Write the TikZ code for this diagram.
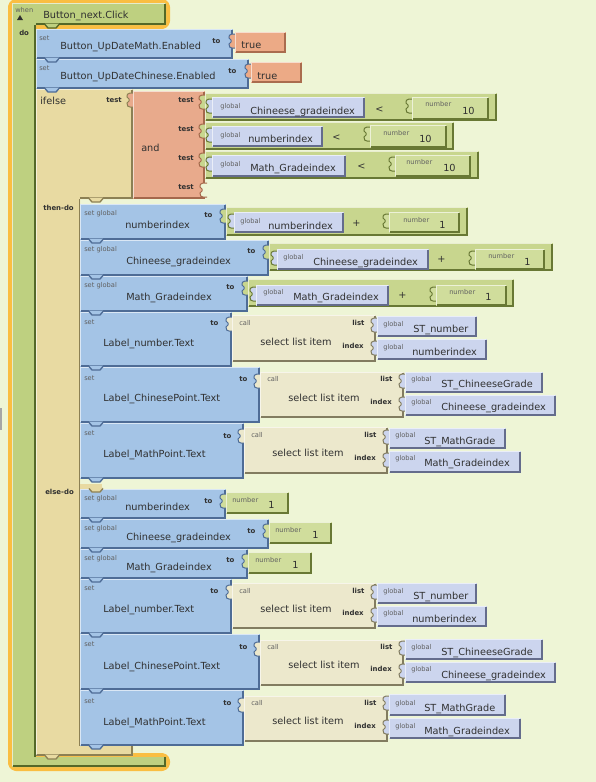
\documentclass[tikz,border=0pt]{standalone}
\usepackage{fontspec}
\setmainfont{DejaVu Sans}
\definecolor{bgc}{RGB}{238,245,214}
\definecolor{hilite}{RGB}{250,190,66}
\definecolor{evg}{RGB}{190,208,128}
\definecolor{evd}{RGB}{84,104,40}
\definecolor{bluec}{RGB}{164,196,230}
\definecolor{blued}{RGB}{78,108,150}
\definecolor{lavc}{RGB}{204,213,238}
\definecolor{lavd}{RGB}{100,108,140}
\definecolor{grc}{RGB}{200,214,142}
\definecolor{grd}{RGB}{104,120,52}
\definecolor{numc}{RGB}{208,221,156}
\definecolor{truec}{RGB}{236,170,134}
\definecolor{trued}{RGB}{170,108,78}
\definecolor{andc}{RGB}{232,170,140}
\definecolor{andd}{RGB}{165,104,76}
\definecolor{ifc}{RGB}{232,218,162}
\definecolor{ifd}{RGB}{140,128,84}
\definecolor{callc}{RGB}{236,232,204}
\definecolor{calld}{RGB}{130,124,96}
\definecolor{txt}{RGB}{48,48,48}
\definecolor{smg}{RGB}{96,96,96}
\newcommand{\Blk}[6]{%
 \fill[#5] (#1,#2) rectangle (#3,#4);
 \draw[#6,line width=1.5pt] (#1+1,#4-1) -- (#3-1,#4-1) -- (#3-1,#2+1);
 \draw[white,opacity=0.6,line width=0.75pt] (#1+0.5,#4-1.5) -- (#1+0.5,#2+0.5) -- (#3-1.5,#2+0.5);
}
\newcommand{\PzTab}[4]{%
 \filldraw[fill=#3,draw=#4,line width=0.75pt] (#1+1,#2+2) -- (#1-3,#2+2) .. controls (#1-6,#2+2) and (#1-6,#2+4) .. (#1-6,#2+6) -- (#1-4,#2+8) -- (#1-4,#2+10) -- (#1-6,#2+12) .. controls (#1-6,#2+15) and (#1-5,#2+16) .. (#1-3,#2+16) -- (#1+1,#2+16);
}
\newcommand{\StNotch}[4]{%
 \fill[#3] (#1+9,#2-1.5) -- (#1+12,#2+3) -- (#1+20,#2+3) -- (#1+23,#2-1.5) -- cycle;
 \draw[#4,line width=1pt] (#1+9,#2-0.5) -- (#1+12,#2+3) -- (#1+20,#2+3) -- (#1+23,#2-0.5);
}
\newcommand{\Tx}[5]{\node[#2] (#1) at (#3,#4) {#5};}
\begin{document}
\begin{tikzpicture}[x=0.75pt,y=-0.75pt,
 lbl/.style={font=\fontsize{7.3}{9}\selectfont,text=txt,inner sep=0pt,anchor=west,text height=5.3pt,text depth=0pt},
 sml/.style={font=\fontsize{5}{6}\selectfont,text=smg,inner sep=0pt,anchor=west,text height=3.6pt,text depth=0pt},
 bld/.style={font=\bfseries\fontsize{5.2}{6}\selectfont,text=txt,inner sep=0pt,anchor=west,text height=3.8pt,text depth=0pt}]
\useasboundingbox (0,0) rectangle (596,782);
\fill[bgc] (0,0) rectangle (596,782);
\fill[black!35] (0,408) rectangle (1.5,430);
% event block
\draw[hilite,line width=6pt,line join=round,rounded corners=3pt] (12,3) -- (166,3) -- (166,25) -- (36,25) -- (36,757) -- (166,757) -- (166,767) -- (12,767) -- cycle;
\fill[evg] (12,3) -- (166,3) -- (166,25) -- (36,25) -- (36,757) -- (166,757) -- (166,767) -- (12,767) -- cycle;
\draw[evd,line width=1.5pt] (36,24) -- (165,24) -- (165,3.5);
\draw[evd,line width=1.5pt] (35,25) -- (35,757);
\draw[evd,line width=1.5pt] (12.5,766) -- (165,766) -- (165,757);
\draw[white,opacity=0.6,line width=0.75pt] (12.5,766) -- (12.5,3.5) -- (165,3.5);
% ifelse block
\fill[ifc] (36,89) -- (133,89) -- (133,199) -- (80,199) -- (80,746) -- (133,746) -- (133,756) -- (36,756) -- cycle;
\draw[ifd,line width=1.5pt] (80,198) -- (132,198) -- (132,90);
\draw[ifd,line width=1pt] (79.5,199) -- (79.5,746);
\draw[ifd,line width=1.5pt] (36,755) -- (132,755) -- (132,746);
\draw[white,opacity=0.6,line width=0.75pt] (36.5,755) -- (36.5,89.5) -- (132,89.5);
\fill[ifc] (80,484) rectangle (102,489);
% top set blocks
\Blk{36}{29}{233}{59}{bluec}{blued}
\PzTab{235}{32}{truec}{blued}
\Blk{235}{32}{286}{53}{truec}{trued}
\Blk{36}{59}{249}{89}{bluec}{blued}
\PzTab{251}{62}{truec}{blued}
\Blk{251}{62}{302}{83}{truec}{trued}
% and block
\PzTab{133}{91}{andc}{ifd}
\Blk{133}{91}{205}{199}{andc}{andd}
\PzTab{206}{181}{bgc}{andd}
% comparisons
\PzTab{205}{93}{grc}{andd}
\Blk{205}{93}{497}{121}{grc}{grd}
\PzTab{212}{97}{lavc}{grd}
\Blk{212}{97}{365}{118}{lavc}{lavd}
\PzTab{412}{97}{numc}{grd}
\Blk{412}{97}{489}{120}{numc}{grd}
\PzTab{205}{122}{grc}{andd}
\Blk{205}{122}{454}{150}{grc}{grd}
\PzTab{212}{126}{lavc}{grd}
\Blk{212}{126}{323}{147}{lavc}{lavd}
\PzTab{370}{125}{numc}{grd}
\Blk{370}{125}{447}{148}{numc}{grd}
\PzTab{205}{151}{grc}{andd}
\Blk{205}{151}{479}{179}{grc}{grd}
\PzTab{212}{155}{lavc}{grd}
\Blk{212}{155}{346}{177}{lavc}{lavd}
\PzTab{395}{155}{numc}{grd}
\Blk{395}{155}{471}{177}{numc}{grd}
% then-do
\Blk{80}{204}{226}{240}{bluec}{blued}
\PzTab{226}{207}{grc}{blued}
\Blk{226}{207}{468}{236}{grc}{grd}
\PzTab{234}{212}{lavc}{grd}
\Blk{234}{212}{344}{233}{lavc}{lavd}
\PzTab{389}{212}{numc}{grd}
\Blk{389}{212}{460}{233}{numc}{grd}
\Blk{80}{240}{269}{276}{bluec}{blued}
\PzTab{269}{243}{grc}{blued}
\Blk{269}{243}{553}{271}{grc}{grd}
\PzTab{277}{249}{lavc}{grd}
\Blk{277}{249}{429}{270}{lavc}{lavd}
\PzTab{475}{249}{numc}{grd}
\Blk{475}{249}{545}{270}{numc}{grd}
\Blk{80}{276}{248}{312}{bluec}{blued}
\PzTab{248}{279}{grc}{blued}
\Blk{248}{279}{514}{307}{grc}{grd}
\PzTab{256}{285}{lavc}{grd}
\Blk{256}{285}{389}{306}{lavc}{lavd}
\PzTab{436}{285}{numc}{grd}
\Blk{436}{285}{507}{306}{numc}{grd}
\Blk{80}{312}{232}{367}{bluec}{blued}
\PzTab{232}{315}{callc}{blued}
\Blk{232}{315}{376}{362}{callc}{calld}
\PzTab{377}{316}{lavc}{calld}
\Blk{377}{316}{477}{337}{lavc}{lavd}
\PzTab{377}{339}{lavc}{calld}
\Blk{377}{339}{487}{360}{lavc}{lavd}
\Blk{80}{367}{260}{423}{bluec}{blued}
\PzTab{260}{372}{callc}{blued}
\Blk{260}{372}{404}{418}{callc}{calld}
\PzTab{405}{372}{lavc}{calld}
\Blk{405}{372}{543}{393}{lavc}{lavd}
\PzTab{405}{395}{lavc}{calld}
\Blk{405}{395}{556}{416}{lavc}{lavd}
\Blk{80}{423}{244}{479}{bluec}{blued}
\PzTab{244}{427}{callc}{blued}
\Blk{244}{427}{388}{474}{callc}{calld}
\PzTab{389}{428}{lavc}{calld}
\Blk{389}{428}{506}{449}{lavc}{lavd}
\PzTab{389}{451}{lavc}{calld}
\Blk{389}{451}{521}{473}{lavc}{lavd}
% else-do
\Blk{80}{489}{226}{519}{bluec}{blued}
\PzTab{226}{492}{numc}{blued}
\Blk{226}{492}{289}{514}{numc}{grd}
\Blk{80}{519}{269}{549}{bluec}{blued}
\PzTab{269}{522}{numc}{blued}
\Blk{269}{522}{332}{544}{numc}{grd}
\Blk{80}{549}{248}{579}{bluec}{blued}
\PzTab{248}{552}{numc}{blued}
\Blk{248}{552}{312}{574}{numc}{grd}
\Blk{80}{579}{232}{634}{bluec}{blued}
\PzTab{232}{583}{callc}{blued}
\Blk{232}{583}{376}{629}{callc}{calld}
\PzTab{377}{583}{lavc}{calld}
\Blk{377}{583}{477}{604}{lavc}{lavd}
\PzTab{377}{606}{lavc}{calld}
\Blk{377}{606}{487}{627}{lavc}{lavd}
\Blk{80}{634}{260}{690}{bluec}{blued}
\PzTab{260}{640}{callc}{blued}
\Blk{260}{640}{404}{686}{callc}{calld}
\PzTab{405}{639}{lavc}{calld}
\Blk{405}{639}{543}{660}{lavc}{lavd}
\PzTab{405}{662}{lavc}{calld}
\Blk{405}{662}{556}{683}{lavc}{lavd}
\Blk{80}{690}{244}{746}{bluec}{blued}
\PzTab{244}{696}{callc}{blued}
\Blk{244}{696}{388}{742}{callc}{calld}
\PzTab{389}{694}{lavc}{calld}
\Blk{389}{694}{506}{716}{lavc}{lavd}
\PzTab{389}{718}{lavc}{calld}
\Blk{389}{718}{521}{739}{lavc}{lavd}
% statement notches
\StNotch{36}{25}{evg}{evd}
\StNotch{36}{59}{bluec}{blued}
\StNotch{36}{89}{bluec}{blued}
\StNotch{80}{199}{ifc}{ifd}
\StNotch{80}{240}{bluec}{blued}
\StNotch{80}{276}{bluec}{blued}
\StNotch{80}{312}{bluec}{blued}
\StNotch{80}{367}{bluec}{blued}
\StNotch{80}{423}{bluec}{blued}
\StNotch{80}{479}{bluec}{blued}
\StNotch{80}{489}{ifc}{ifd}
\StNotch{80}{519}{bluec}{blued}
\StNotch{80}{549}{bluec}{blued}
\StNotch{80}{579}{bluec}{blued}
\StNotch{80}{634}{bluec}{blued}
\StNotch{80}{690}{bluec}{blued}
\StNotch{80}{746}{bluec}{blued}
\StNotch{36}{756}{ifc}{ifd}
% texts: event and top
\Tx{when}{sml}{15}{10}{when}
\fill[txt] (17,20) -- (23,20) -- (20,15) -- cycle;
\Tx{evt}{lbl}{43}{15}{Button\_next.Click}
\Tx{dolbl}{bld}{19}{33}{do}
\Tx{s1}{sml}{39}{38}{set}
\Tx{l1}{lbl}{60}{46}{Button\_UpDateMath.Enabled}
\Tx{o1}{bld}{212}{41}{to}
\Tx{v1}{lbl}{241}{45}{true}
\Tx{s2}{sml}{39}{68}{set}
\Tx{l2}{lbl}{60}{76}{Button\_UpDateChinese.Enabled}
\Tx{o2}{bld}{228}{71}{to}
\Tx{v2}{lbl}{257}{76}{true}
\Tx{tif}{lbl}{40}{101}{ifelse}
\Tx{tt0}{bld}{106}{100}{test}
\Tx{tand}{lbl}{141}{148}{and}
\Tx{tt1}{bld}{178}{100}{test}
\Tx{tt2}{bld}{178}{129}{test}
\Tx{tt3}{bld}{178}{158}{test}
\Tx{tt4}{bld}{178}{187}{test}
\Tx{cg1}{sml}{220}{106}{global}
\Tx{cv1}{lbl}{250}{111}{Chineese\_gradeindex}
\Tx{cl1}{lbl}{375}{109}{<}
\Tx{cn1}{sml}{425}{104}{number}
\Tx{cx1}{lbl}{462}{111}{10}
\Tx{cg2}{sml}{220}{135}{global}
\Tx{cv2}{lbl}{248}{139}{numberindex}
\Tx{cl2}{lbl}{332}{137}{<}
\Tx{cn2}{sml}{383}{133}{number}
\Tx{cx2}{lbl}{419}{139}{10}
\Tx{cg3}{sml}{220}{164}{global}
\Tx{cv3}{lbl}{250}{168}{Math\_Gradeindex}
\Tx{cl3}{lbl}{357}{166}{<}
\Tx{cn3}{sml}{406}{162}{number}
\Tx{cx3}{lbl}{443}{168}{10}
\Tx{thd}{bld}{43}{208}{then-do}
\Tx{eld}{bld}{45}{492}{else-do}
% then a
\Tx{as}{sml}{84}{213}{set global}
\Tx{av}{lbl}{125}{225}{numberindex}
\Tx{ao}{bld}{204}{215}{to}
\Tx{ag}{sml}{240}{221}{global}
\Tx{aw}{lbl}{268}{226}{numberindex}
\Tx{ap}{lbl}{352}{223}{+}
\Tx{an}{sml}{403}{220}{number}
\Tx{ax}{lbl}{439}{225}{1}
% then b
\Tx{bs}{sml}{84}{249}{set global}
\Tx{bv}{lbl}{126}{261}{Chineese\_gradeindex}
\Tx{bo}{bld}{247}{251}{to}
\Tx{bg}{sml}{283}{257}{global}
\Tx{bw}{lbl}{313}{262}{Chineese\_gradeindex}
\Tx{bp}{lbl}{437}{259}{+}
\Tx{bn}{sml}{488}{256}{number}
\Tx{bx}{lbl}{524}{262}{1}
% then c
\Tx{cs}{sml}{84}{285}{set global}
\Tx{cv}{lbl}{126}{297}{Math\_Gradeindex}
\Tx{co}{bld}{226}{287}{to}
\Tx{cg}{sml}{263}{292}{global}
\Tx{cw}{lbl}{293}{297}{Math\_Gradeindex}
\Tx{cp}{lbl}{398}{295}{+}
\Tx{cn}{sml}{449}{292}{number}
\Tx{cx}{lbl}{485}{297}{1}
% then d
\Tx{ds}{sml}{84}{322}{set}
\Tx{dv}{lbl}{103}{343}{Label\_number.Text}
\Tx{do}{bld}{210}{323}{to}
\Tx{dc}{sml}{239}{323}{call}
\Tx{dsl}{lbl}{260}{342}{select list item}
\Tx{dl}{bld}{352}{323}{list}
\Tx{di}{bld}{342}{346}{index}
\Tx{dg1}{sml}{383}{324}{global}
\Tx{dw1}{lbl}{413}{329}{ST\_number}
\Tx{dg2}{sml}{383}{347}{global}
\Tx{dw2}{lbl}{412}{352}{numberindex}
% then e
\Tx{es}{sml}{84}{378}{set}
\Tx{ev}{lbl}{103}{398}{Label\_ChinesePoint.Text}
\Tx{eo}{bld}{239}{379}{to}
\Tx{ec}{sml}{267}{379}{call}
\Tx{esl}{lbl}{288}{398}{select list item}
\Tx{el}{bld}{380}{379}{list}
\Tx{ei}{bld}{370}{402}{index}
\Tx{eg1}{sml}{411}{379}{global}
\Tx{ew1}{lbl}{441}{384}{ST\_ChineeseGrade}
\Tx{eg2}{sml}{411}{402}{global}
\Tx{ew2}{lbl}{441}{407}{Chineese\_gradeindex}
% then f
\Tx{fs}{sml}{84}{433}{set}
\Tx{fv}{lbl}{103}{454}{Label\_MathPoint.Text}
\Tx{fo}{bld}{223}{436}{to}
\Tx{fc}{sml}{251}{435}{call}
\Tx{fsl}{lbl}{272}{453}{select list item}
\Tx{fl}{bld}{364}{435}{list}
\Tx{fi}{bld}{354}{458}{index}
\Tx{fg1}{sml}{395}{435}{global}
\Tx{fw1}{lbl}{424}{441}{ST\_MathGrade}
\Tx{fg2}{sml}{395}{458}{global}
\Tx{fw2}{lbl}{424}{463}{Math\_Gradeindex}
% else g h i
\Tx{gs}{sml}{84}{498}{set global}
\Tx{gv}{lbl}{125}{507}{numberindex}
\Tx{go}{bld}{204}{501}{to}
\Tx{gn}{sml}{232}{500}{number}
\Tx{gx}{lbl}{268}{505}{1}
\Tx{hs}{sml}{84}{528}{set global}
\Tx{hv}{lbl}{126}{537}{Chineese\_gradeindex}
\Tx{ho}{bld}{247}{531}{to}
\Tx{hn}{sml}{275}{530}{number}
\Tx{hx}{lbl}{312}{535}{1}
\Tx{is}{sml}{84}{558}{set global}
\Tx{iv}{lbl}{126}{567}{Math\_Gradeindex}
\Tx{io}{bld}{226}{560}{to}
\Tx{in}{sml}{255}{560}{number}
\Tx{ix}{lbl}{292}{565}{1}
% else j
\Tx{js}{sml}{84}{588}{set}
\Tx{jv}{lbl}{103}{609}{Label\_number.Text}
\Tx{jo}{bld}{210}{591}{to}
\Tx{jc}{sml}{239}{591}{call}
\Tx{jsl}{lbl}{260}{609}{select list item}
\Tx{jl}{bld}{352}{591}{list}
\Tx{ji}{bld}{342}{613}{index}
\Tx{jg1}{sml}{383}{591}{global}
\Tx{jw1}{lbl}{413}{596}{ST\_number}
\Tx{jg2}{sml}{383}{613}{global}
\Tx{jw2}{lbl}{412}{619}{numberindex}
% else k
\Tx{ks}{sml}{84}{644}{set}
\Tx{kv}{lbl}{103}{666}{Label\_ChinesePoint.Text}
\Tx{ko}{bld}{239}{647}{to}
\Tx{kc}{sml}{267}{647}{call}
\Tx{ksl}{lbl}{288}{665}{select list item}
\Tx{kl}{bld}{380}{647}{list}
\Tx{ki}{bld}{370}{669}{index}
\Tx{kg1}{sml}{411}{647}{global}
\Tx{kw1}{lbl}{441}{652}{ST\_ChineeseGrade}
\Tx{kg2}{sml}{411}{669}{global}
\Tx{kw2}{lbl}{441}{675}{Chineese\_gradeindex}
% else l
\Tx{ls}{sml}{84}{701}{set}
\Tx{lv}{lbl}{103}{722}{Label\_MathPoint.Text}
\Tx{lo}{bld}{223}{703}{to}
\Tx{lc}{sml}{251}{703}{call}
\Tx{lsl}{lbl}{272}{721}{select list item}
\Tx{ll}{bld}{364}{703}{list}
\Tx{li}{bld}{354}{726}{index}
\Tx{lg1}{sml}{395}{703}{global}
\Tx{lw1}{lbl}{424}{708}{ST\_MathGrade}
\Tx{lg2}{sml}{395}{726}{global}
\Tx{lw2}{lbl}{424}{731}{Math\_Gradeindex}
\end{tikzpicture}
\end{document}
